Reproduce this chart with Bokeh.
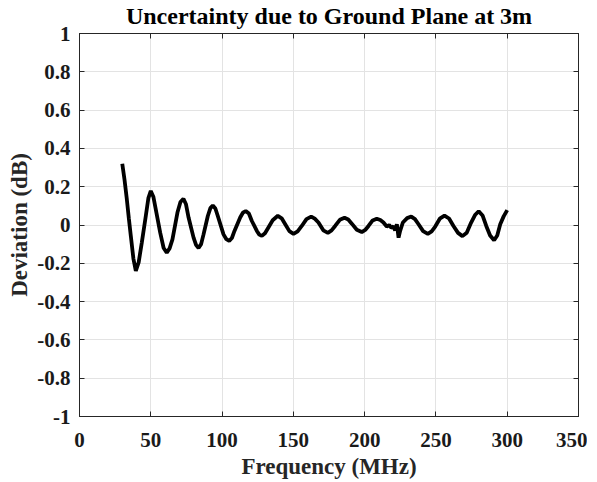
from bokeh.plotting import figure
from bokeh.models import LinearAxis, FixedTicker, Range1d, ColumnDataSource, CustomLabelingPolicy
from bokeh.embed import file_html
from bokeh.resources import INLINE

# Data
freq_mhz = [30, 31.6, 33.2, 34.6, 36.0, 37.8, 39.5, 41.5, 43.7, 46.5,
            48.3, 50.0, 51.8, 53.5, 56.6, 59.0, 61.2, 63.2, 65.2, 68.7,
            70.8, 72.9, 74.7, 76.5, 80.0, 81.8, 83.5, 85.3, 87.0, 90.0,
            91.8, 93.5, 95.3, 97.0, 101.0, 103.0, 105.0, 106.9, 108.7, 112.7,
            114.6, 116.6, 118.8, 120.9, 124.4, 126.1, 127.9, 130.1, 132.4, 135.5,
            139.1, 141.8, 144.3, 147.2, 150.1, 153.0, 155.9, 159.2, 162.5, 165.0,
            167.6, 171.0, 174.2, 176.8, 179.3, 182.6, 185.9, 188.5, 191.0, 194.5,
            198.0, 200.4, 202.7, 205.6, 208.5, 211.0, 213.2, 215.5, 217.2, 218.6,
            220.2, 221.4, 222.6, 223.8, 224.9, 226.8, 229.8, 232.7, 235.3, 237.8,
            241.0, 244.3, 247.0, 249.5, 252.7, 256.0, 259.2, 262.3, 265.5, 268.6,
            271.6, 274.7, 277.4, 280.0, 282.7, 285.3, 288.0, 290.8, 293.0, 295.1,
            297.5, 300.0]
deviation_db = [0.32, 0.235, 0.134, 0.035, -0.057, -0.175, -0.240, -0.195, -0.092, 0.047,
                0.140, 0.178, 0.148, 0.082, -0.040, -0.120, -0.144, -0.122, -0.075, 0.065,
                0.120, 0.137, 0.108, 0.039, -0.066, -0.105, -0.120, -0.100, -0.049, 0.047,
                0.088, 0.102, 0.086, 0.047, -0.049, -0.074, -0.083, -0.068, -0.031, 0.039,
                0.064, 0.073, 0.060, 0.021, -0.031, -0.050, -0.057, -0.043, -0.014, 0.025,
                0.048, 0.035, 0.004, -0.032, -0.046, -0.033, -0.005, 0.031, 0.044, 0.033,
                0.013, -0.028, -0.041, -0.028, -0.005, 0.027, 0.038, 0.029, 0.007, -0.025,
                -0.037, -0.026, -0.005, 0.024, 0.033, 0.026, 0.013, -0.008, 0.0, -0.014,
                -0.008, -0.028, 0.004, -0.066, -0.031, 0.013, 0.036, 0.044, 0.031, 0.004,
                -0.032, -0.046, -0.033, -0.008, 0.033, 0.049, 0.034, -0.005, -0.041, -0.058,
                -0.040, 0.013, 0.052, 0.072, 0.050, -0.005, -0.055, -0.080, -0.055, 0.004,
                0.045, 0.078]

x_ticks = [0, 50, 100, 150, 200, 250, 300, 350]
y_ticks = [-1, -0.8, -0.6, -0.4, -0.2, 0, 0.2, 0.4, 0.6, 0.8, 1]
y_tick_labels = ["-1", "-0.8", "-0.6", "-0.4", "-0.2", "0", "0.2", "0.4", "0.6", "0.8", "1"]

FONT = "Liberation Serif"
AX_COLOR = "#262626"

p = figure(frame_width=499, frame_height=383,
           x_range=Range1d(0, 350), y_range=Range1d(-1, 1),
           output_backend="svg", toolbar_location=None,
           min_border_left=79, min_border_right=9,
           min_border_top=28, min_border_bottom=58,
           title="Uncertainty due to Ground Plane at 3m")

p.title.text_font = FONT
p.title.text_font_size = "24px"
p.title.text_font_style = "bold"
p.title.text_color = "black"
p.title.align = "center"
p.title.standoff = 1

p.outline_line_color = AX_COLOR
p.outline_line_width = 1
p.background_fill_color = "white"
p.border_fill_color = "white"

src = ColumnDataSource(dict(f=freq_mhz, d=deviation_db))
p.line("f", "d", source=src, line_color="black", line_width=3.8)

# Grid
for g in (p.xgrid[0], p.ygrid[0]):
    g.grid_line_color = "#e3e3e3"
    g.grid_line_width = 1
p.xgrid[0].ticker = FixedTicker(ticks=x_ticks)
p.ygrid[0].ticker = FixedTicker(ticks=y_ticks)

def style_axis(ax, ticks):
    ax.ticker = FixedTicker(ticks=ticks)
    ax.axis_line_color = AX_COLOR
    ax.axis_line_width = 1
    ax.major_tick_line_color = AX_COLOR
    ax.major_tick_in = 5
    ax.major_tick_out = 0
    ax.minor_tick_line_color = None
    ax.major_label_text_font = FONT
    ax.major_label_text_font_size = "21px"
    ax.major_label_text_font_style = "bold"
    ax.major_label_text_color = "#1a1a1a"
    ax.axis_label_text_font = FONT
    ax.axis_label_text_font_size = "23px"
    ax.axis_label_text_font_style = "bold"
    ax.axis_label_text_color = "#262626"

xb = p.below[0]
style_axis(xb, x_ticks)
xb.axis_label = "Frequency (MHz)"
xb.major_label_standoff = 16
xb.axis_label_standoff = 4

yl = p.left[0]
style_axis(yl, y_ticks)
yl.axis_label = "Deviation (dB)"
yl.major_label_overrides = {v: s for v, s in zip(y_ticks, y_tick_labels)}
yl.major_label_standoff = 9
yl.axis_label_standoff = 2

# box ticks on top and right (labels suppressed)
no_labels = "for (const i of indices) { indices.unset(i) }\nreturn indices"

xt = LinearAxis()
style_axis(xt, x_ticks)
xt.major_label_policy = CustomLabelingPolicy(code=no_labels)
xt.major_label_text_font_size = "1px"
xt.major_label_standoff = 0
p.add_layout(xt, "above")

yr = LinearAxis()
style_axis(yr, y_ticks)
yr.major_label_policy = CustomLabelingPolicy(code=no_labels)
yr.major_label_text_font_size = "1px"
yr.major_label_standoff = 0
p.add_layout(yr, "right")

open("out.html", "w").write(file_html(p, INLINE))
